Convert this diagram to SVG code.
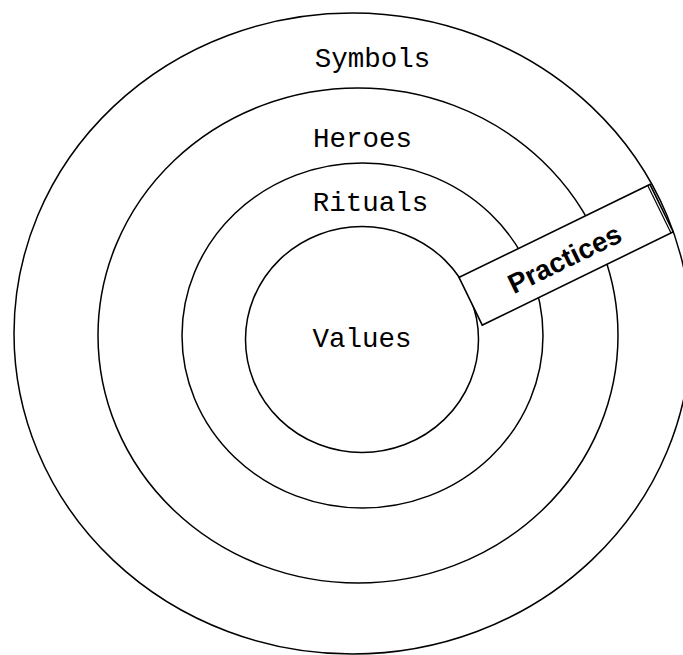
<svg xmlns="http://www.w3.org/2000/svg" width="683" height="655" viewBox="0 0 683 655">
<style>
.ring{fill:none;stroke:#000;stroke-width:1.5}
.lbl{font-family:"Liberation Mono","Courier New",monospace;font-size:27.5px;fill:#000;text-anchor:middle}
.box{fill:#fff;stroke:#000;stroke-width:1.6}
.ptxt{font-family:"Liberation Sans",Arial,sans-serif;font-weight:bold;font-size:27.5px;fill:#000;text-anchor:middle}
</style>
<rect width="683" height="655" fill="#fff"/>
<g id="symbols">
<ellipse class="ring" cx="352.4" cy="333.5" rx="338.4" ry="320.5"/>
<text class="lbl" x="372.5" y="67">Symbols</text>
</g>
<g id="heroes">
<ellipse class="ring" cx="358" cy="335.5" rx="260" ry="247.5"/>
<text class="lbl" x="362.5" y="146.5">Heroes</text>
</g>
<g id="rituals">
<ellipse class="ring" cx="362.5" cy="335.5" rx="180.5" ry="172.5"/>
<text class="lbl" x="370.5" y="211">Rituals</text>
</g>
<g id="values">
<ellipse class="ring" cx="362" cy="339.5" rx="116.5" ry="113"/>
<text class="lbl" x="362" y="347">Values</text>
</g>
<g id="practices" transform="translate(565,255.25) rotate(-26)">
<rect class="box" x="-105" y="-26.5" width="212.5" height="53"/>
<line x1="105" y1="-26.5" x2="105" y2="26.5" stroke="#000" stroke-width="1.2"/>
<text class="ptxt" x="-2" y="12.5">Practices</text>
</g>
<g id="connectors"/>
</svg>
